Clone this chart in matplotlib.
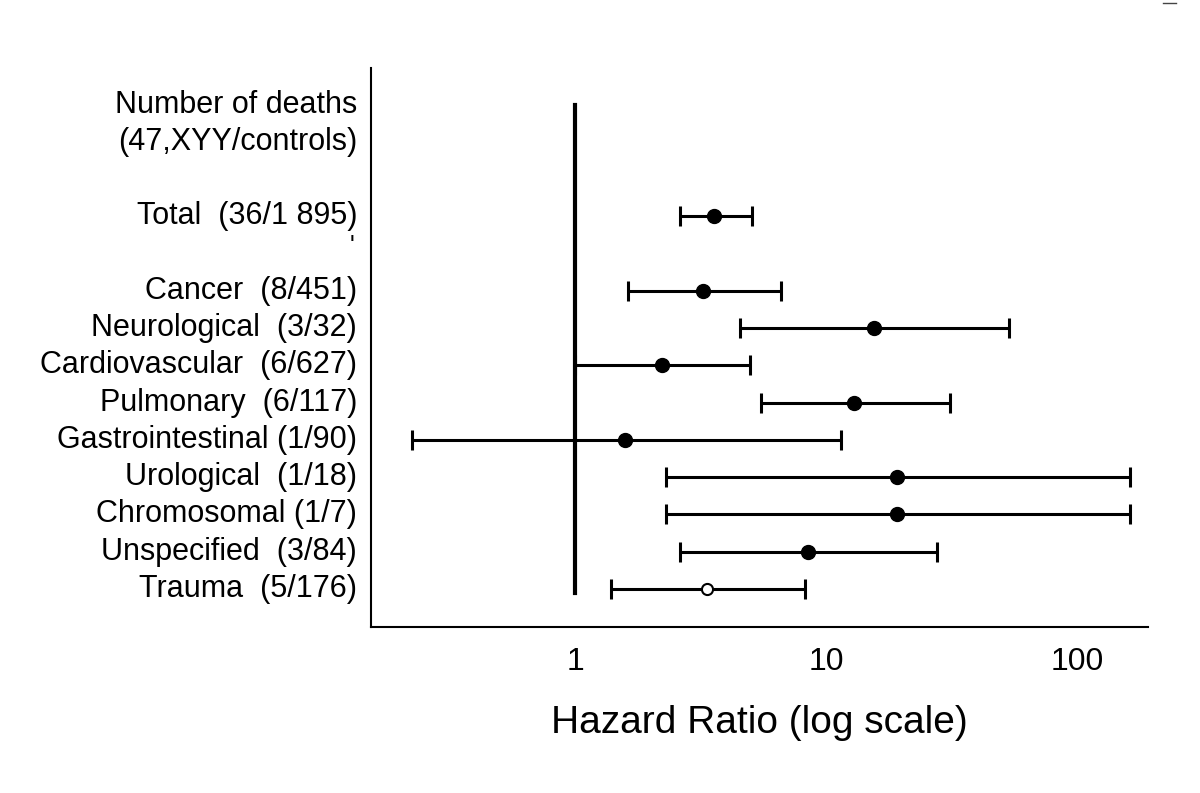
import numpy as np
import matplotlib
matplotlib.use("Agg")
import matplotlib.pyplot as plt
from matplotlib.lines import Line2D

plt.rcParams["font.family"] = ["Liberation Sans", "DejaVu Sans"]

# data
labels = ["Total  (36/1 895)", "Cancer  (8/451)", "Neurological  (3/32)",
          "Cardiovascular  (6/627)", "Pulmonary  (6/117)", "Gastrointestinal (1/90)",
          "Urological  (1/18)", "Chromosomal (1/7)", "Unspecified  (3/84)",
          "Trauma  (5/176)"]
hr = [3.57, 3.22, 15.5, 2.21, 12.9, 1.58, 19.2, 19.2, 8.42, 3.35]
ci_low = [2.61, 1.615, 4.54, 1.0, 5.48, 0.223, 2.30, 2.30, 2.61, 1.39]
ci_high = [5.06, 6.59, 53.5, 4.98, 31.1, 11.4, 163, 163, 27.7, 8.21]
open_marker = [False] * 9 + [True]
header = ["Number of deaths", "(47,XYY/controls)"]
xticks = [1, 10, 100]

# rows: Total two rows above the causes
ypos = np.array([10] + list(range(8, -1, -1)), dtype=float)

fig = plt.figure(figsize=(12, 7.93), dpi=100)
ax = fig.add_axes([0.3092, 0.2093, 0.6475, 0.7049])

ax.axvline(1, ymin=(0 - 0.1 - (-1.02)) / 15.0, ymax=(13.0 - (-1.02)) / 15.0,
           color="black", lw=3)

lo = np.array(hr) - np.array(ci_low)
hi = np.array(ci_high) - np.array(hr)
for i in range(len(hr)):
    ax.errorbar(hr[i], ypos[i], xerr=[[lo[i]], [hi[i]]], fmt="none",
                ecolor="black", elinewidth=2.2, capsize=7.5, capthick=2.2)
    if open_marker[i]:
        ax.plot(hr[i], ypos[i], "o", ms=8, mfc="white", mec="black", mew=1.5)
    else:
        ax.plot(hr[i], ypos[i], "o", ms=10, color="black")

ax.set_xscale("log")
ax.set_xlim(0.153, 192)
ax.set_ylim(-1.02, 13.98)

ax.spines["top"].set_visible(False)
ax.spines["right"].set_visible(False)
ax.spines["left"].set_linewidth(1.5)
ax.spines["bottom"].set_linewidth(1.5)

ax.set_yticks([])
ax.set_xticks(xticks)
ax.set_xticklabels([str(t) for t in xticks])
ax.xaxis.set_minor_locator(matplotlib.ticker.NullLocator())
ax.tick_params(axis="x", length=0, pad=14.5, labelsize=23)
ax.set_xlabel("Hazard Ratio (log scale)", fontsize=28, labelpad=20)

trans = ax.get_yaxis_transform()
for lab, y in zip(labels, ypos):
    ax.text(-0.018, y, lab, transform=trans, ha="right", va="center", fontsize=22)
ax.text(-0.018, 13, header[0], transform=trans, ha="right", va="center", fontsize=22)
ax.text(-0.018, 12, header[1], transform=trans, ha="right", va="center", fontsize=22)
ax.text(-0.022, 9.2, "'", transform=trans, ha="right", va="center", fontsize=18)

fig.add_artist(Line2D([1163 / 1200, 1176 / 1200], [1 - 3 / 793, 1 - 3 / 793],
                      color="#444444", lw=1))

fig.savefig("out.png", dpi=100)
